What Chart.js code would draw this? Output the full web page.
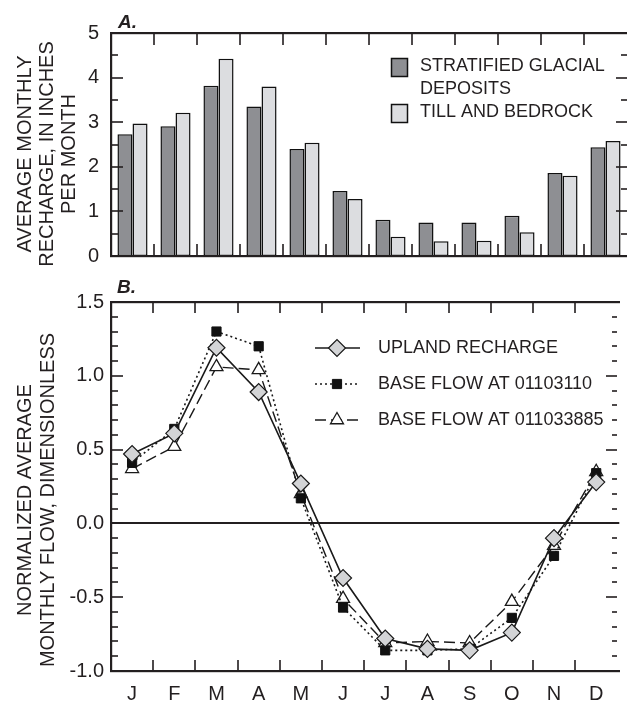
<!DOCTYPE html>
<html><head><meta charset="utf-8">
<script src="https://cdn.jsdelivr.net/npm/chart.js@4.4.0/dist/chart.umd.min.js"></script>
<style>
html,body{margin:0;padding:0;background:#fff;}
#wrap{position:relative;width:627px;height:707px;overflow:hidden;}
#chartA{position:absolute;left:0;top:0;}
#chartB{position:absolute;left:0;top:275px;}
</style></head><body>
<div id="wrap">
<canvas id="chartA" width="627" height="275"></canvas>
<canvas id="chartB" width="627" height="432"></canvas>
</div>
<script>
// ---- data ----
const months = ['J','F','M','A','M','J','J','A','S','O','N','D'];
const stratified = [2.73,2.91,3.82,3.35,2.40,1.46,0.81,0.75,0.75,0.90,1.86,2.44];
const tillBedrock = [2.97,3.21,4.42,3.80,2.54,1.28,0.43,0.33,0.34,0.53,1.80,2.58];
const rechargeTicks = [0,1,2,3,4,5];
const upland = [0.47,0.61,1.19,0.89,0.27,-0.37,-0.78,-0.85,-0.86,-0.74,-0.10,0.28];
const base01103110 = [0.41,0.64,1.30,1.20,0.17,-0.57,-0.86,-0.86,-0.85,-0.64,-0.22,0.34];
const base011033885 = [0.37,0.52,1.06,1.04,0.20,-0.51,-0.81,-0.80,-0.81,-0.53,-0.15,0.35];
const flowTicks = [-1.0,-0.5,0.0,0.5,1.0,1.5];

const INK = '#231f20';
const FONT = "'Liberation Sans', Arial, Helvetica, sans-serif";
Chart.defaults.font.family = FONT;
Chart.defaults.color = INK;

function drawFrame(chart, cfg) {
  const ctx = chart.ctx, a = chart.chartArea;
  const xs = chart.scales.x, ys = chart.scales.y;
  const L = Math.round(a.left), T = Math.round(a.top), B = Math.round(a.bottom), R = Math.round(a.right);
  ctx.save();
  ctx.fillStyle = INK;
  ctx.fillRect(L - 1, T - 1, R - L + 4, 2.2);
  ctx.fillRect(L - 1, B - 1, R - L + 4, 2.2);
  ctx.fillRect(L - 1, T - 1, 2.2, B - T + 2);
  const n = chart.data.labels.length;
  for (let i = 1; i < n; i++) {
    const x = Math.round((xs.getPixelForValue(i - 1) + xs.getPixelForValue(i)) / 2);
    ctx.fillRect(x - 0.8, T, 1.6, cfg.lenX);
    ctx.fillRect(x - 0.8, B - cfg.lenX, 1.6, cfg.lenX);
  }
  const steps = Math.round((ys.max - ys.min) / cfg.minor);
  const ratio = Math.round(cfg.major / cfg.minor);
  for (let k = 1; k < steps; k++) {
    const v = ys.min + k * cfg.minor;
    const y = Math.round(ys.getPixelForValue(v));
    const maj = k % ratio === 0;
    const lL = maj ? cfg.majL : cfg.minL, lR = maj ? cfg.majR : cfg.minR;
    ctx.fillRect(L, y - 0.8, lL, 1.6);
    ctx.fillRect(R - lR, y - 0.8, lR, 1.6);
  }
  ctx.restore();
}

function vText(ctx, lines, xs, yc, font) {
  ctx.save();
  ctx.font = font;
  ctx.fillStyle = INK;
  ctx.textAlign = 'center';
  ctx.textBaseline = 'middle';
  lines.forEach((t, i) => {
    ctx.save();
    ctx.translate(xs[i], yc);
    ctx.rotate(-Math.PI / 2);
    ctx.fillText(t, 0, 0);
    ctx.restore();
  });
  ctx.restore();
}

const decoA = {
  id: 'decoA',
  afterDraw(chart) {
    const ctx = chart.ctx;
    drawFrame(chart, {major: 1, minor: 0.5, majL: 12, minL: 7, majR: 11, minR: 6, lenX: 12});
    vText(ctx, ['AVERAGE MONTHLY', 'RECHARGE, IN INCHES', 'PER MONTH'], [25, 47, 69], 154, '20px ' + FONT);
    ctx.save();
    ctx.fillStyle = INK;
    ctx.font = 'italic bold 19px ' + FONT;
    ctx.textBaseline = 'alphabetic';
    ctx.fillText('A.', 118, 28);
    const ds = chart.data.datasets;
    ctx.lineWidth = 1.5;
    ctx.strokeStyle = '#111';
    ctx.fillStyle = ds[0].backgroundColor;
    ctx.fillRect(391.5, 58.5, 16, 18); ctx.strokeRect(391.5, 58.5, 16, 18);
    ctx.fillStyle = ds[1].backgroundColor;
    ctx.fillRect(391.5, 104.5, 16, 18); ctx.strokeRect(391.5, 104.5, 16, 18);
    ctx.fillStyle = INK;
    ctx.font = '18px ' + FONT;
    ctx.textBaseline = 'middle';
    ctx.fillText('STRATIFIED GLACIAL', 420, 66);
    ctx.fillText('DEPOSITS', 420, 89);
    ctx.fillText('TILL AND BEDROCK', 420, 112);
    ctx.restore();
  }
};

const decoB = {
  id: 'decoB',
  beforeDatasetsDraw(chart) {
    const ctx = chart.ctx, a = chart.chartArea;
    const y = Math.round(chart.scales.y.getPixelForValue(0));
    ctx.save();
    ctx.fillStyle = INK;
    ctx.fillRect(a.left, y - 1, a.right - a.left + 2, 2);
    ctx.restore();
  },
  afterDraw(chart) {
    const ctx = chart.ctx;
    drawFrame(chart, {major: 0.5, minor: 0.1, majL: 12, minL: 7, majR: 11, minR: 5, lenX: 11});
    vText(ctx, ['NORMALIZED AVERAGE', 'MONTHLY FLOW, DIMENSIONLESS'], [25, 48], 225, '20px ' + FONT);
    ctx.save();
    ctx.fillStyle = INK;
    ctx.font = 'italic bold 19px ' + FONT;
    ctx.fillText('B.', 117, 18);
    const rows = [73, 109, 145];
    chart.data.datasets.forEach((d, i) => {
      const y = rows[i];
      ctx.save();
      ctx.strokeStyle = d.borderColor;
      ctx.lineWidth = d.borderWidth;
      ctx.setLineDash(d.borderDash || []);
      ctx.beginPath(); ctx.moveTo(315, y); ctx.lineTo(360, y); ctx.stroke();
      ctx.setLineDash([]);
      ctx.fillStyle = d.pointBackgroundColor;
      ctx.strokeStyle = d.pointBorderColor;
      ctx.lineWidth = d.pointBorderWidth;
      Chart.helpers.drawPoint(ctx, {pointStyle: d.pointStyle, radius: d.pointRadius, rotation: 0, borderWidth: d.pointBorderWidth}, 337, y);
      ctx.restore();
      ctx.fillStyle = INK;
      ctx.font = '18px ' + FONT;
      ctx.textBaseline = 'middle';
      ctx.fillText(d.label, 378, y);
    });
    ctx.restore();
  }
};

function fixY(w) { return function (s) { s.width = w; s.paddingTop = 0; s.paddingBottom = 0; }; }
function fixX(h) { return function (s) { s.height = h; s.paddingLeft = 0; s.paddingRight = 0; }; }

new Chart(document.getElementById('chartA'), {
  type: 'bar',
  data: {
    labels: months,
    datasets: [
      {label: 'STRATIFIED GLACIAL DEPOSITS', data: stratified, backgroundColor: '#8e8f93', borderColor: '#111', borderWidth: 1.5, borderSkipped: false},
      {label: 'TILL AND BEDROCK', data: tillBedrock, backgroundColor: '#dcdde0', borderColor: '#111', borderWidth: 1.5, borderSkipped: false}
    ]
  },
  options: {
    responsive: false, animation: false, events: [],
    layout: {padding: {top: 33, left: 0, right: 0, bottom: 0}},
    datasets: {bar: {categoryPercentage: 0.7, barPercentage: 1.0}},
    plugins: {legend: {display: false}, tooltip: {enabled: false}},
    scales: {
      x: {offset: true, grid: {display: false}, border: {display: false}, ticks: {display: false}, afterFit: fixX(19)},
      y: {min: rechargeTicks[0], max: rechargeTicks[rechargeTicks.length - 1],
          afterBuildTicks: s => { s.ticks = rechargeTicks.map(v => ({value: v})); },
          grid: {display: false, drawTicks: false}, border: {display: false},
          ticks: {padding: 12, font: {size: 20}, color: INK},
          afterFit: fixY(111)}
    }
  },
  plugins: [decoA]
});

new Chart(document.getElementById('chartB'), {
  type: 'line',
  data: {
    labels: months,
    datasets: [
      {label: 'UPLAND RECHARGE', data: upland, borderColor: '#1a1a1a', borderWidth: 1.6,
       pointStyle: 'rectRot', pointRadius: 8.5, pointBackgroundColor: '#d3d4d6', pointBorderColor: '#1a1a1a', pointBorderWidth: 1.2, tension: 0},
      {label: 'BASE FLOW AT 01103110', data: base01103110, borderColor: '#1a1a1a', borderWidth: 1.6, borderDash: [2, 3],
       pointStyle: 'rect', pointRadius: 6.5, pointBackgroundColor: '#111', pointBorderColor: '#111', pointBorderWidth: 1, tension: 0},
      {label: 'BASE FLOW AT 011033885', data: base011033885, borderColor: '#1a1a1a', borderWidth: 1.4, borderDash: [11, 5],
       pointStyle: 'triangle', pointRadius: 7.5, pointBackgroundColor: '#ffffff', pointBorderColor: '#1a1a1a', pointBorderWidth: 1.3, tension: 0}
    ]
  },
  options: {
    responsive: false, animation: false, events: [],
    layout: {padding: {top: 27, left: 0, right: 0, bottom: 0}},
    plugins: {legend: {display: false}, tooltip: {enabled: false}},
    scales: {
      x: {offset: true, grid: {display: false, drawTicks: false}, border: {display: false},
          ticks: {padding: 11, font: {size: 20}, color: INK}, afterFit: fixX(36)},
      y: {min: flowTicks[0], max: flowTicks[flowTicks.length - 1],
          afterBuildTicks: s => { s.ticks = flowTicks.map(v => ({value: v})); },
          grid: {display: false, drawTicks: false}, border: {display: false},
          ticks: {padding: 7, font: {size: 20}, color: INK, callback: v => Number(v).toFixed(1)},
          afterFit: fixY(111)}
    }
  },
  plugins: [decoB]
});
</script>
</body></html>
